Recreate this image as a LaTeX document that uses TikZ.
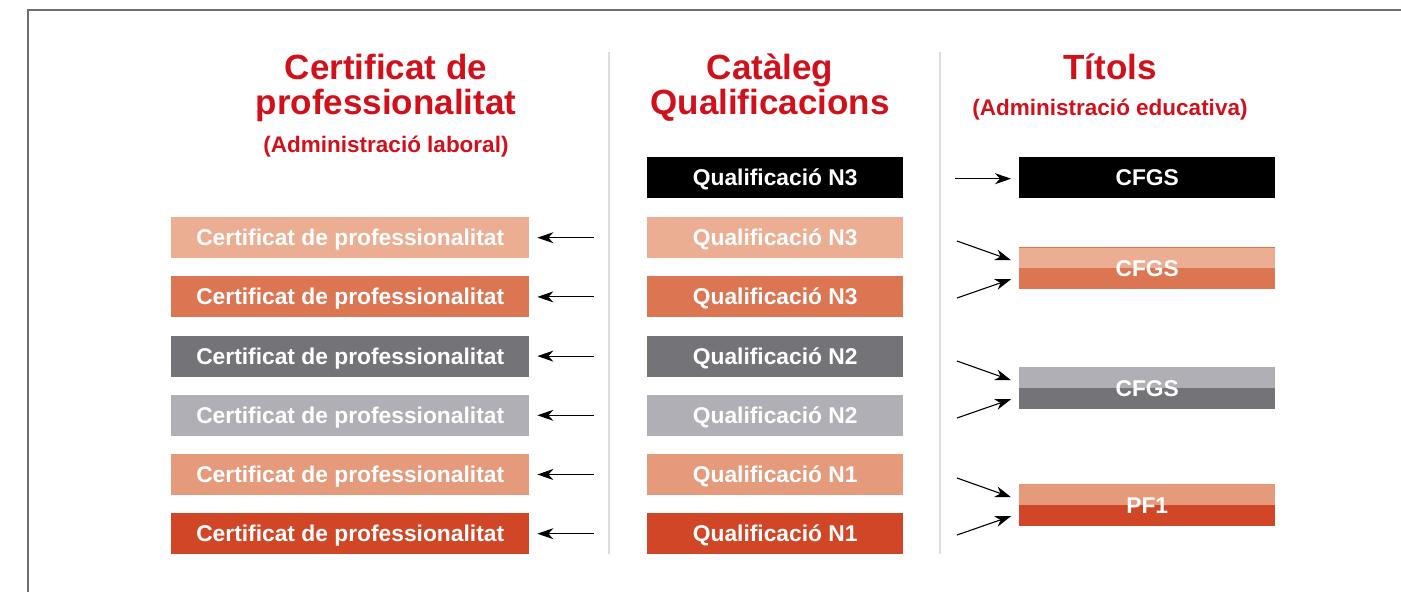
\documentclass[tikz,border=0pt]{standalone}
\usepackage{fontspec}
\setmainfont{Liberation Sans}
\usetikzlibrary{arrows.meta}
\definecolor{ttlred}{HTML}{D0111C}
\definecolor{clight}{HTML}{EBAE92}
\definecolor{corange}{HTML}{DC7552}
\definecolor{cdgray}{HTML}{747377}
\definecolor{clgray}{HTML}{B0AFB5}
\definecolor{csalmon}{HTML}{E69A7C}
\definecolor{cred}{HTML}{D04626}
\definecolor{sepgray}{HTML}{DDDDDD}
\definecolor{framegray}{HTML}{6E6E6E}
\tikzset{
  boxbase/.style={rectangle, inner sep=0pt, anchor=north west, minimum height=41pt,
    text=white, font=\bfseries\fontsize{22.8}{27}\selectfont, text height=16pt, text depth=0pt},
  leftbox/.style={boxbase, minimum width=358pt},
  midbox/.style={boxbase, minimum width=256pt},
  rightbox/.style={boxbase, minimum width=256pt, minimum height=42pt},
  title/.style={anchor=base, text=ttlred, font=\bfseries\fontsize{35}{40}\selectfont, inner sep=0pt},
  subtitle/.style={anchor=base, text=ttlred, font=\bfseries\fontsize{22.5}{26}\selectfont, inner sep=0pt},
  arr/.style={draw=black, line width=1.1pt, -{Stealth[length=16pt,width=11pt,inset=5pt]}},
  sep/.style={draw=sepgray, line width=1.6pt},
}
\begin{document}
\begin{tikzpicture}[x=1pt,y=-1pt]
\useasboundingbox (0,0) rectangle (1401,592);
% frame
\draw[framegray, line width=1.6pt] (28,592) -- (28,10) -- (1401,10);
% separators
\coordinate (s1a) at (609,52); \coordinate (s1b) at (609,554);
\coordinate (s2a) at (940,52); \coordinate (s2b) at (940,554);
\draw[sep] (s1a) -- (s1b);
\draw[sep] (s2a) -- (s2b);
% titles
\node[title] (h1a) at (386,79) {Certificat de};
\node[title] (h1b) at (386,114) {professionalitat};
\node[subtitle] (h1c) at (386,152) {(Administració laboral)};
\node[title] (h2a) at (770,79) {Catàleg};
\node[title] (h2b) at (770,114) {Qualificacions};
\node[title] (h3a) at (1110,79) {Títols};
\node[subtitle] (h3b) at (1110,115) {(Administració educativa)};
% middle column
\node[midbox, fill=black] (q0) at (647,157) {Qualificació N3};
\node[midbox, fill=clight] (q1) at (647,217) {Qualificació N3};
\node[midbox, fill=corange] (q2) at (647,276.2) {Qualificació N3};
\node[midbox, fill=cdgray] (q3) at (647,335.4) {Qualificació N2};
\node[midbox, fill=clgray] (q4) at (647,394.6) {Qualificació N2};
\node[midbox, fill=csalmon] (q5) at (647,453.8) {Qualificació N1};
\node[midbox, fill=cred] (q6) at (647,513) {Qualificació N1};
% left column
\node[leftbox, fill=clight] (c1) at (171,217) {Certificat de professionalitat};
\node[leftbox, fill=corange] (c2) at (171,276.2) {Certificat de professionalitat};
\node[leftbox, fill=cdgray] (c3) at (171,335.4) {Certificat de professionalitat};
\node[leftbox, fill=clgray] (c4) at (171,394.6) {Certificat de professionalitat};
\node[leftbox, fill=csalmon] (c5) at (171,453.8) {Certificat de professionalitat};
\node[leftbox, fill=cred] (c6) at (171,513) {Certificat de professionalitat};
% left arrows
\foreach \i in {1,...,6}{
  \draw[arr] ([xshift=-53pt]q\i.west) -- ([xshift=8pt]c\i.east);
}
% right column
\node[rightbox, fill=black, minimum height=41pt] (t1) at (1019,157) {CFGS};
\fill[clight] (1019,247) rectangle (1275,268);
\fill[corange] (1019,268) rectangle (1275,289);
\draw[corange, line width=0.8pt] (1019,247.4) -- (1275,247.4);
\node[rightbox] (t2) at (1019,247) {CFGS};
\fill[clgray] (1019,367) rectangle (1275,388);
\fill[cdgray] (1019,388) rectangle (1275,409);
\node[rightbox] (t3) at (1019,367) {CFGS};
\fill[csalmon] (1019,484) rectangle (1275,505);
\fill[cred] (1019,505) rectangle (1275,526);
\node[rightbox] (t4) at (1019,484) {PF1};
% right arrows
\coordinate (r2a) at (957,241); \coordinate (r2b) at (957,298);
\coordinate (r3a) at (957,361); \coordinate (r3b) at (957,418);
\coordinate (r4a) at (957,478); \coordinate (r4b) at (957,535);
\draw[arr] ([xshift=-64pt,yshift=-1pt]t1.west) -- ([xshift=-8pt,yshift=-1pt]t1.west);
\draw[arr] (r2a) -- ([xshift=-8pt,yshift=8pt]t2.west);
\draw[arr] (r2b) -- ([xshift=-8pt,yshift=-11pt]t2.west);
\draw[arr] (r3a) -- ([xshift=-8pt,yshift=8pt]t3.west);
\draw[arr] (r3b) -- ([xshift=-8pt,yshift=-11pt]t3.west);
\draw[arr] (r4a) -- ([xshift=-8pt,yshift=8pt]t4.west);
\draw[arr] (r4b) -- ([xshift=-8pt,yshift=-11pt]t4.west);
\end{tikzpicture}
\end{document}
